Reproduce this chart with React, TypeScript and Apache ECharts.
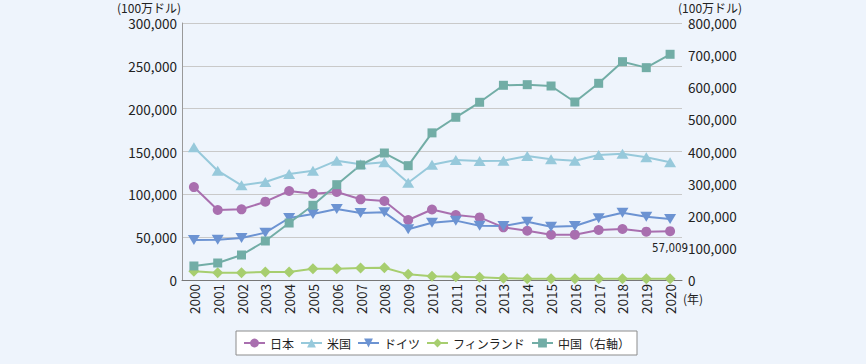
import React, { useEffect, useRef } from "react";
import * as echarts from "echarts";

const years = ["2000","2001","2002","2003","2004","2005","2006","2007","2008","2009","2010","2011","2012","2013","2014","2015","2016","2017","2018","2019","2020"];
const japan = [108500, 81700, 82500, 91400, 103900, 100700, 102700, 94200, 92200, 70000, 82300, 75900, 73100, 61500, 57500, 52800, 52900, 58400, 59500, 56400, 57009];
const usa = [154900, 127600, 110500, 114400, 123700, 127600, 139300, 135000, 137400, 113600, 134600, 140100, 138900, 139300, 144700, 140900, 139300, 145900, 147500, 143200, 137400];
const germany = [46700, 47100, 49000, 55300, 72400, 77000, 82900, 78200, 79000, 59200, 66900, 69300, 63400, 63000, 68100, 62200, 63000, 72000, 78600, 73900, 71200];
const finland = [10100, 8600, 8600, 9300, 9300, 13200, 13200, 14000, 14400, 6600, 4300, 3900, 3100, 2000, 1600, 1500, 1500, 1500, 1500, 1500, 1500];
const china = [43600, 52900, 77800, 121400, 177400, 232500, 296700, 358000, 395300, 355900, 458000, 506500, 553200, 606100, 608000, 603900, 554100, 612300, 679600, 661000, 702600];

const seriesNames = ["日本", "米国", "ドイツ", "フィンランド", "中国（右軸）"];
const unitLabel = "(100万ドル)";
const yearUnit = "(年)";

const FONT = "'Noto Sans CJK JP', 'Noto Sans', sans-serif";

export default function App() {
  const ref = useRef<HTMLDivElement>(null);
  useEffect(() => {
    if (!ref.current) return;
    const chart = echarts.init(ref.current, null, { renderer: "svg" });
    const fmt = (v: number) => v.toLocaleString("en-US");
    const colors = ["#A96FAF", "#97C9DB", "#6C93D2", "#A7CE6F", "#72ADA6"];
    chart.setOption({
      animation: false,
      backgroundColor: "#EEF4FC",
      textStyle: { fontFamily: FONT },
      color: colors,
      grid: { left: 182, right: 184, top: 23, bottom: 84, containLabel: false },
      legend: {
        left: 236,
        top: 331,
        orient: "horizontal",
        backgroundColor: "#FFFFFF",
        borderColor: "#8C8C8C",
        borderWidth: 1,
        borderRadius: 0,
        padding: [6, 7],
        itemWidth: 21,
        itemHeight: 11,
        itemGap: 6,
        textStyle: { fontSize: 12, color: "#222", fontFamily: FONT },
        data: seriesNames,
      },
      xAxis: {
        type: "category",
        data: years,
        boundaryGap: true,
        axisLine: { lineStyle: { color: "#777", width: 1 } },
        axisTick: { show: false },
        axisLabel: { rotate: 90, fontSize: 13.5, color: "#222", margin: 4, interval: 0, fontFamily: FONT },
      },
      yAxis: [
        {
          type: "value",
          min: 0,
          max: 300000,
          interval: 50000,
          axisLine: { show: true, lineStyle: { color: "#999" } },
          axisTick: { show: false },
          axisLabel: { fontSize: 13.5, lineHeight: 14, color: "#222", margin: 5, formatter: fmt, fontFamily: FONT },
          splitLine: { show: true, lineStyle: { color: "#C9C9C9", width: 1.2 } },
        },
        {
          type: "value",
          min: 0,
          max: 800000,
          interval: 100000,
          position: "right",
          axisLine: { show: false },
          axisTick: { show: false },
          axisLabel: { fontSize: 13.5, lineHeight: 14, color: "#222", margin: 6, formatter: fmt, fontFamily: FONT },
          splitLine: { show: false },
        },
      ],
      graphic: [
        { type: "text", left: 117, top: 1, style: { text: unitLabel, fontSize: 12, lineHeight: 12, fill: "#222", fontFamily: FONT } },
        { type: "text", left: 678, top: 1, style: { text: unitLabel, fontSize: 12, lineHeight: 12, fill: "#222", fontFamily: FONT } },
        { type: "text", left: 683, top: 292, style: { text: yearUnit, fontSize: 12, fill: "#222", fontFamily: FONT } },
      ],
      series: [
        {
          name: seriesNames[0], type: "line", data: japan, symbol: "circle", symbolSize: 10,
          lineStyle: { width: 2 },
          label: {
            show: true,
            position: "bottom",
            distance: 6,
            fontSize: 11.5,
            color: "#222",
            fontFamily: "'Liberation Sans Narrow', 'DejaVu Sans Condensed', sans-serif",
            formatter: (p: any) => (p.dataIndex === japan.length - 1 ? fmt(p.value) : ""),
          },
        },
        { name: seriesNames[1], type: "line", data: usa, symbol: "triangle", symbolSize: [12, 10], lineStyle: { width: 2 } },
        { name: seriesNames[2], type: "line", data: germany, symbol: "triangle", symbolRotate: 180, symbolSize: [12, 10], lineStyle: { width: 2 } },
        { name: seriesNames[3], type: "line", data: finland, symbol: "diamond", symbolSize: 11, lineStyle: { width: 2 } },
        { name: seriesNames[4], type: "line", data: china, yAxisIndex: 1, symbol: "rect", symbolSize: 9, lineStyle: { width: 2 } },
      ],
    });
    return () => chart.dispose();
  }, []);
  return (
    <div style={{ position: "fixed", left: 0, top: 0, width: 866, height: 364, background: "#EEF4FC" }}>
      <div ref={ref} style={{ width: 866, height: 364 }} />
    </div>
  );
}
